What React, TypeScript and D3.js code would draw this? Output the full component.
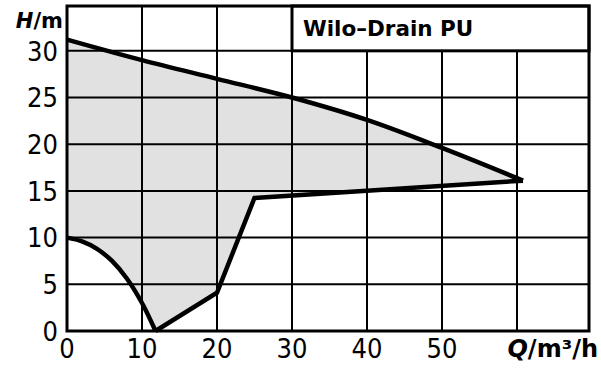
import React from "react";
import * as d3 from "d3";

const xTicks = [0, 10, 20, 30, 40, 50];
const yTicks = [0, 5, 10, 15, 20, 25, 30];
const xGrid = [10, 20, 30, 40, 50, 60];
const yGrid = [5, 10, 15, 20, 25, 30];

const upperQ = [0, 10, 20, 30, 40, 50, 60.8];
const upperH = [31.2, 29.0, 27.0, 25.0, 22.6, 19.6, 16.1];
const lowerQ = [60.8, 25, 20, 11.8, 10, 8, 6, 4, 2, 0];
const lowerH = [16.1, 14.25, 4.1, 0, 3.0, 5.6, 7.5, 8.8, 9.6, 10];

const title = "Wilo–Drain PU";

const W = 601, H = 369;
const L = 67, R = 589, T = 6, B = 331;

export default function App() {
  const x = d3.scaleLinear().domain([0, 69.6]).range([L, R]);
  const y = d3.scaleLinear().domain([0, 34.8]).range([B, T]);
  const upper = upperQ.map((q, i) => [q, upperH[i]] as [number, number]);
  const lower = lowerQ.map((q, i) => [q, lowerH[i]] as [number, number]);
  const lineUpper = d3.line<[number, number]>().x(d => x(d[0])).y(d => y(d[1])).curve(d3.curveMonotoneX);
  const lineLowerLin = d3.line<[number, number]>().x(d => x(d[0])).y(d => y(d[1]));
  const seg1 = lower.slice(0, 4);
  const seg2 = lower.slice(3);
  const lineCurve = d3.line<[number, number]>().x(d => x(d[0])).y(d => y(d[1])).curve(d3.curveCatmullRom);
  const fillPath = (lineUpper(upper) || "") + "L" + (lineLowerLin(seg1) || "").slice(1) + "L" + (lineCurve(seg2) || "").slice(1) + "Z";
  const tickFont = "'Liberation Sans Narrow', 'DejaVu Sans Condensed', sans-serif";
  const boldFont = "'DejaVu Sans', sans-serif";
  return (
    <svg width={W} height={H} style={{ display: "block", position: "absolute", left: 0, top: 0 }}>
      <rect x={0} y={0} width={W} height={H} fill="#fff" />
      <path d={fillPath} fill="#e1e1e1" stroke="none" />
      {xGrid.map(v => (
        <line key={"gx" + v} x1={x(v)} x2={x(v)} y1={T} y2={B} stroke="#000" strokeWidth={2} />
      ))}
      {yGrid.map(v => (
        <line key={"gy" + v} x1={L} x2={R} y1={y(v)} y2={y(v)} stroke="#000" strokeWidth={2} />
      ))}
      <rect x={x(30)} y={T} width={R - x(30)} height={y(30) - T} fill="#fff" stroke="#000" strokeWidth={3} />
      <text x={x(30) + 11} y={36} fontFamily={boldFont} fontWeight="bold" fontSize={21.5} fill="#000">{title}</text>
      <path d={lineUpper(upper) || ""} fill="none" stroke="#000" strokeWidth={4.5} strokeLinejoin="round" />
      <path d={lineLowerLin(seg1) || ""} fill="none" stroke="#000" strokeWidth={4.5} strokeLinejoin="miter" />
      <path d={lineCurve(seg2) || ""} fill="none" stroke="#000" strokeWidth={4.5} />
      <rect x={L} y={T} width={R - L} height={B - T} fill="none" stroke="#000" strokeWidth={3} />
      {yTicks.map(v => (
        <text key={"yt" + v} x={L - 9} y={y(v)} dy="0.36em" textAnchor="end" fontFamily={tickFont} fontSize={27} fill="#000">{v}</text>
      ))}
      {xTicks.map(v => (
        <text key={"xt" + v} x={x(v)} y={358} textAnchor="middle" fontFamily={tickFont} fontSize={27} fill="#000">{v}</text>
      ))}
      <text x={63} y={28} textAnchor="end" fontFamily={boldFont} fontWeight="bold" fontSize={21} fill="#000">
        <tspan fontStyle="italic">H</tspan>/m
      </text>
      <text x={598} y={357} textAnchor="end" fontFamily={boldFont} fontWeight="bold" fontSize={24} fill="#000">
        <tspan fontStyle="italic">Q</tspan>/m³/h
      </text>
    </svg>
  );
}
